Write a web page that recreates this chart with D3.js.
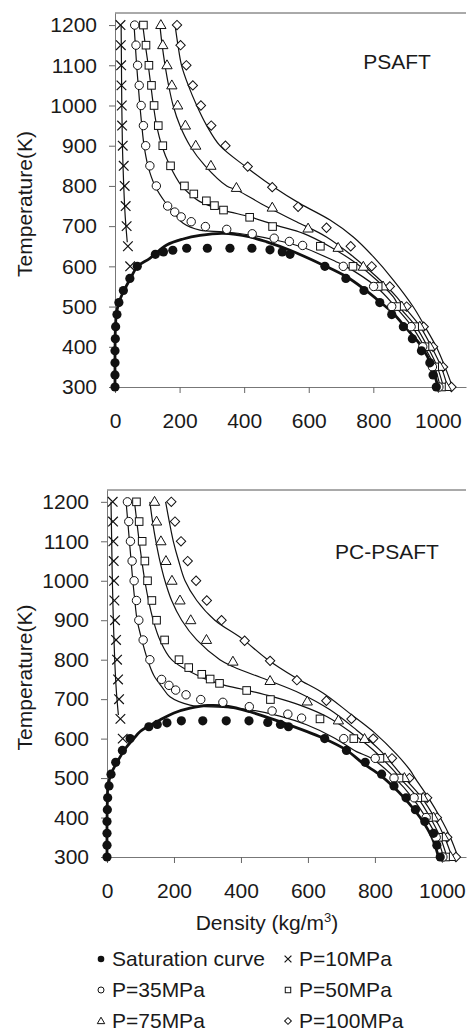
<!DOCTYPE html>
<html>
<head>
<meta charset="utf-8">
<script src="https://cdn.jsdelivr.net/npm/d3@7"></script>
<style>
body { margin: 0; background: #fff; }
svg text { font-family: "Liberation Sans", Arial, sans-serif; fill: #1a1a1a; }
</style>
</head>
<body>
<svg id="chart" width="467" height="1032"></svg>
<script>
// ticks
const xTicks = [0, 200, 400, 600, 800, 1000];
const yTicks = [300, 400, 500, 600, 700, 800, 900, 1000, 1100, 1200];

// experimental points [density, T] (same data in both panels)
const satExp = [[0,300],[0,330],[0,360],[0,390],[1,420],[2,450],[6,480],[12,510],[26,540],[46,570],[69,600],
  [125,630],[150,636],[179,640],[222,645],[286,645],[356,645],[424,645],[480,641],[518,636],[542,630],
  [650,600],[715,570],[771,540],[820,510],[857,480],[893,450],[921,420],[949,390],[975,360],[985,330],[995,300]];
const p10Exp = [[17,1200],[18,1150],[19,1100],[20,1050],[21,1000],[22,950],[24,900],[27,850],[30,800],[33,750],[36,700],[40,650],[47,600]];
const p35Exp = [[61,1200],[65,1150],[70,1100],[75,1050],[81,1000],[88,950],[95,900],[108,850],[128,800],[163,750],[185,735],
  [205,723],[236,711],[280,699],[346,692],[425,681],[493,670],[540,662],[581,652],[707,600],[801,550],[857,500],[917,450],[953,400],[983,350],[1003,300]];
const p50Exp = [[88,1200],[96,1150],[105,1100],[113,1050],[121,1000],[134,950],[148,900],[172,850],[215,800],[244,780],[283,763],
  [308,751],[336,740],[417,722],[488,699],[636,650],[737,600],[815,550],[872,500],[928,450],[960,400],[990,350],[1011,300]];
const p75Exp = [[142,1200],[148,1150],[161,1100],[176,1050],[194,1000],[218,950],[250,900],[297,850],[376,795],[487,746],
  [598,694],[691,646],[769,599],[830,550],[888,500],[944,450],[975,400],[1006,350],[1026,300]];
const p100Exp = [[192,1200],[203,1150],[221,1100],[241,1050],[266,1000],[298,950],[342,900],[411,848],[487,797],[567,748],
  [655,696],[730,650],[795,600],[851,550],[903,500],[956,450],[985,400],[1016,350],[1042,300]];

// PSAFT model curves
const psaftSat = [[0,300],[0,380],[1,440],[4,480],[12,510],[28,540],[48,570],[70,600],[108,620],[160,653],[211,668],[263,677],
  [335,682],[418,673],[470,661],[542,640],[645,603],[717,574],[769,545],[820,512],[862,483],[898,450],[950,400],[982,350],[1000,300]];
const psaft10 = [[19,1200],[20,1100],[21,1000],[23,900],[27,800],[32,720],[38,660]];
const psaft35 = [[59,1200],[63,1150],[67,1100],[72,1050],[77,1000],[83,950],[90,900],[102,850],[124,800],[155,760],[191,725],
  [211,707],[263,690],[335,686],[418,678],[500,665],[583,647],[686,611],[715,600],[808,550],[868,500],[920,450],[958,400],[990,350],[1007,300]];
const psaft50 = [[86,1200],[94,1150],[103,1100],[111,1050],[119,1000],[129,950],[145,900],[170,850],[206,800],[232,780],[263,761],
  [335,740],[418,723],[500,702],[583,682],[666,649],[748,607],[810,566],[862,524],[880,500],[932,450],[968,400],[998,350],[1017,300]];
const psaft75 = [[139,1200],[146,1150],[155,1100],[166,1050],[180,1000],[201,950],[232,900],[279,850],[346,800],[377,790],[470,748],
  [562,711],[655,673],[738,624],[810,574],[872,524],[895,500],[945,450],[980,400],[1010,350],[1030,300]];
const psaft100 = [[186,1200],[195,1150],[206,1100],[227,1050],[253,1000],[284,950],[325,900],[408,846],[490,798],[573,756],
  [666,715],[738,673],[800,624],[862,566],[924,499],[960,450],[995,400],[1022,350],[1045,300]];

// PC-PSAFT model curves
const pcSat = [[0,300],[0,380],[1,440],[3,480],[12,510],[30,540],[55,575],[80,600],[99,618],[158,647],[200,665],[248,677],
  [300,684],[358,682],[427,668],[516,643],[646,601],[715,571],[765,537],[815,508],[855,478],[884,453],[935,400],[970,350],[990,300]];
const pc10 = [[12,1200],[14,1100],[16,1000],[19,900],[23,800],[28,720],[34,660]];
const pc35 = [[57,1200],[62,1150],[67,1100],[72,1050],[77,1000],[83,950],[90,900],[104,850],[121,800],[140,760],[165,730],
  [188,706],[248,685],[347,679],[427,673],[516,657],[596,635],[676,603],[745,567],[790,550],[860,500],[912,450],[952,400],[985,350],[1005,300]];
const pc50 = [[82,1200],[89,1150],[96,1100],[104,1050],[113,1000],[124,950],[138,900],[158,850],[193,800],[278,757],[347,736],
  [417,723],[496,706],[576,685],[656,656],[725,618],[795,571],[855,520],[875,500],[928,450],[965,400],[995,350],[1015,300]];
const pc75 = [[128,1200],[136,1150],[146,1100],[158,1050],[173,1000],[193,950],[223,900],[268,850],[337,800],[377,782],[477,749],
  [576,715],[666,673],[745,622],[815,571],[875,512],[888,500],[940,450],[978,400],[1008,350],[1030,300]];
const pc100 = [[175,1200],[186,1150],[198,1100],[214,1050],[233,1000],[268,950],[322,900],[402,854],[477,802],[566,753],
  [646,715],[725,664],[800,614],[865,560],[905,520],[920,500],[960,450],[995,400],[1025,350],[1048,300]];

const legendLabels = ["Saturation curve", "P=10MPa", "P=35MPa", "P=50MPa", "P=75MPa", "P=100MPa"];
const legendKeys = ["sat", "p10", "p35", "p50", "p75", "p100"];

const svg = d3.select("#chart");

// marker shapes
const timesType = d3.symbolTimes || {
  draw(ctx, size) {
    const r = Math.sqrt(size) * 0.6;
    ctx.moveTo(-r, -r); ctx.lineTo(r, r); ctx.moveTo(-r, r); ctx.lineTo(r, -r);
  }
};

function drawMarker(g, key, cx, cy, s) {
  if (key === "sat") {
    g.append("circle").attr("cx", cx).attr("cy", cy).attr("r", 4.6 * s).attr("fill", "#111");
  } else if (key === "p10") {
    g.append("path").attr("d", d3.symbol(timesType, 62 * s * s)())
      .attr("transform", `translate(${cx},${cy})`).attr("stroke", "#111").attr("stroke-width", 1.2).attr("fill", "none");
  } else if (key === "p35") {
    g.append("circle").attr("cx", cx).attr("cy", cy).attr("r", 4.2 * s)
      .attr("fill", "#fff").attr("stroke", "#111").attr("stroke-width", 1);
  } else if (key === "p50") {
    const a = 7.6 * s;
    g.append("rect").attr("x", cx - a / 2).attr("y", cy - a / 2).attr("width", a).attr("height", a)
      .attr("fill", "#fff").attr("stroke", "#111").attr("stroke-width", 1);
  } else if (key === "p75") {
    g.append("path").attr("d", d3.symbol(d3.symbolTriangle, 46 * s * s)())
      .attr("transform", `translate(${cx},${cy + 0.5})`)
      .attr("fill", "#fff").attr("stroke", "#111").attr("stroke-width", 1);
  } else if (key === "p100") {
    g.append("path").attr("d", d3.symbol(d3.symbolSquare, 44 * s * s)())
      .attr("transform", `translate(${cx},${cy}) rotate(45)`)
      .attr("fill", "#fff").attr("stroke", "#111").attr("stroke-width", 1);
  }
}

function drawPanel(p) {
  const x = d3.scaleLinear().domain([0, p.xMax]).range([p.left, 466]);
  const y = d3.scaleLinear().domain([300, 1230]).range([p.bottom, p.top]);
  const g = svg.append("g");

  // top frame line
  g.append("line").attr("x1", p.left).attr("x2", 466).attr("y1", p.top).attr("y2", p.top)
    .attr("stroke", "#555").attr("stroke-width", 1);

  const xAxis = g.append("g").attr("transform", `translate(0,${p.bottom})`)
    .call(d3.axisBottom(x).tickValues(xTicks).tickFormat(d3.format("d")).tickSize(6).tickPadding(20).tickSizeOuter(0));
  const yAxis = g.append("g").attr("transform", `translate(${p.left},0)`)
    .call(d3.axisLeft(y).tickValues(yTicks).tickFormat(d3.format("d")).tickSize(6).tickPadding(12).tickSizeOuter(0));
  [xAxis, yAxis].forEach(a => {
    a.select(".domain").attr("stroke", "#777");
    a.selectAll(".tick line").attr("stroke", "#666");
    a.selectAll(".tick text").attr("font-size", 21).attr("fill", "#1a1a1a")
      .style("font-family", '"Liberation Sans", Arial, sans-serif');
  });

  g.append("text").attr("transform", `translate(24,${(p.top + p.bottom) / 2 + 4}) rotate(-90)`)
    .attr("text-anchor", "middle").attr("dominant-baseline", "central")
    .attr("font-size", 21).text("Temperature(K)");

  g.append("text").attr("x", p.titleX).attr("y", p.titleY).attr("text-anchor", "middle")
    .attr("font-size", 21).text(p.title);

  const line = d3.line().x(d => x(d[0])).y(d => y(d[1])).curve(d3.curveCatmullRom.alpha(0.5));

  p.lines.forEach(l => {
    g.append("path").datum(l).attr("d", line).attr("fill", "none")
      .attr("stroke", "#111").attr("stroke-width", 1.2);
  });
  g.append("path").datum(p.sat).attr("d", line).attr("fill", "none")
    .attr("stroke", "#111").attr("stroke-width", 2.8);

  const marks = g.append("g");
  [["p100", p100Exp], ["p75", p75Exp], ["p50", p50Exp], ["p35", p35Exp], ["p10", p10Exp], ["sat", satExp]]
    .forEach(([k, arr]) => arr.forEach(d => drawMarker(marks, k, x(d[0]), y(d[1]), 1)));
}

drawPanel({ left: 115, bottom: 387, top: 13, xMax: 1087, title: "PSAFT", titleX: 397, titleY: 69,
  sat: psaftSat, lines: [psaft10, psaft35, psaft50, psaft75, psaft100] });
drawPanel({ left: 107, bottom: 857, top: 490, xMax: 1072, title: "PC-PSAFT", titleX: 387, titleY: 559,
  sat: pcSat, lines: [pc10, pc35, pc50, pc75, pc100] });

// x axis title (bottom panel only)
const xt = svg.append("text").attr("x", 267).attr("y", 930).attr("text-anchor", "middle").attr("font-size", 21);
xt.append("tspan").text("Density (kg/m");
xt.append("tspan").attr("font-size", 13).attr("dy", -8).text("3");
xt.append("tspan").attr("dy", 8).text(")");

// legend
const lg = svg.append("g");
legendKeys.forEach((k, i) => {
  const cx = i % 2 === 0 ? 101 : 288;
  const cy = 959 + Math.floor(i / 2) * 31;
  drawMarker(lg, k, cx, cy, 0.72);
  lg.append("text").attr("x", cx + 11).attr("y", cy + 7).attr("font-size", 21).text(legendLabels[i]);
});
</script>
</body>
</html>
